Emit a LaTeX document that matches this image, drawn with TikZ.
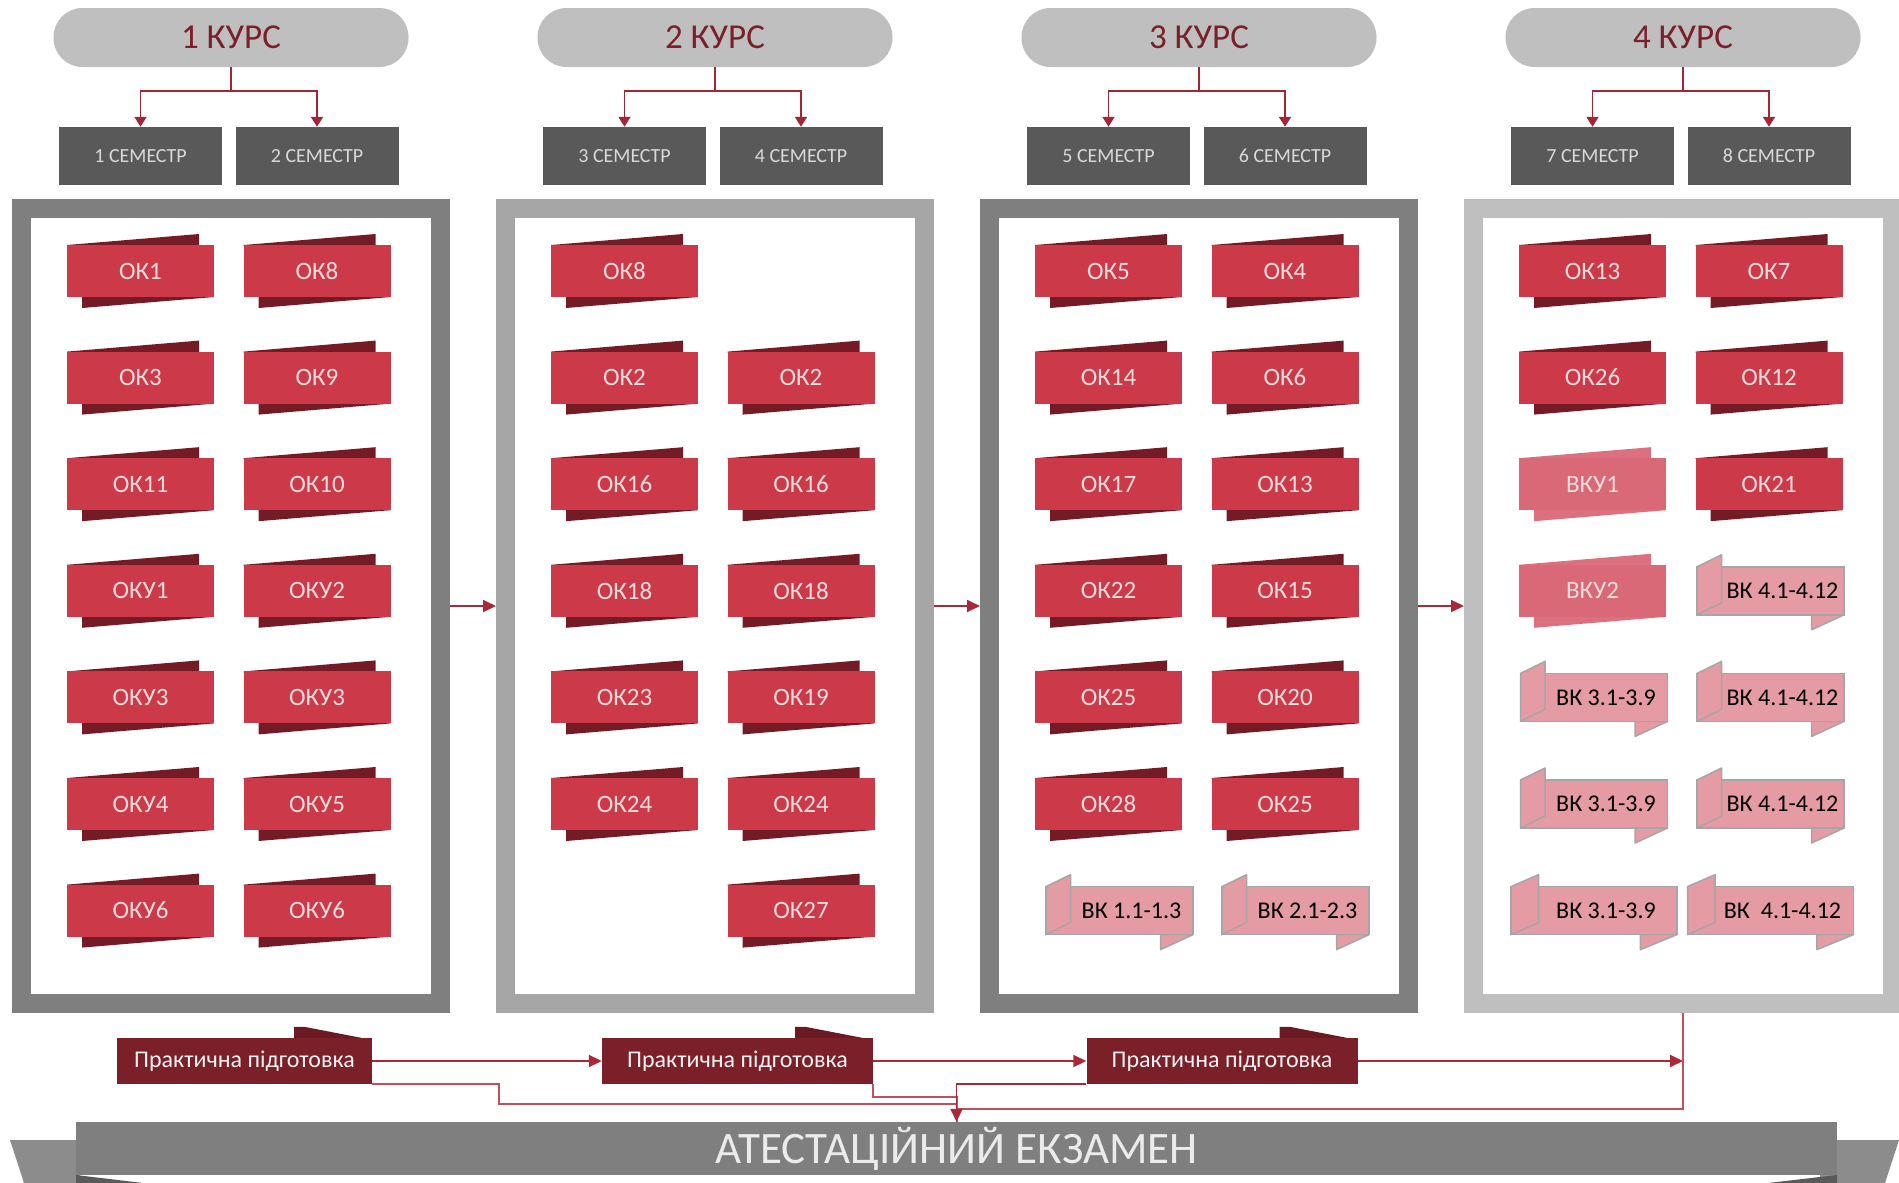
\documentclass[tikz,border=0pt]{standalone}
\usepackage{fontspec}
\setmainfont{Carlito}
\usepackage{tikz}
\usetikzlibrary{arrows.meta,calc}

\tikzset{
  kurs/.style={rectangle, rounded corners=29pt, fill={rgb,255:red,191;green,191;blue,191}, minimum width=355pt, minimum height=59pt, text={rgb,255:red,123;green,31;blue,43}, font=\fontsize{35}{40}\selectfont},
  sem/.style={rectangle, fill={rgb,255:red,89;green,89;blue,89}, minimum width=163pt, minimum height=58pt, text={rgb,255:red,217;green,217;blue,217}, font=\fontsize{20}{24}\selectfont},
  frame/.style={rectangle, fill=white, line width=19pt, outer sep=9.5pt, inner sep=0pt, minimum width=419pt, minimum height=795pt},
  frdark/.style={draw={rgb,255:red,127;green,127;blue,127}},
  frmid/.style={draw={rgb,255:red,166;green,166;blue,166}},
  frlight/.style={draw={rgb,255:red,191;green,191;blue,191}},
  okfront/.style={rectangle, fill={rgb,255:red,204;green,58;blue,74}, minimum width=147pt, minimum height=52pt, text={rgb,255:red,242;green,220;blue,219}, font=\fontsize{25}{29}\selectfont},
  okback/.style={fill={rgb,255:red,117;green,27;blue,37}},
  palefront/.style={okfront, fill={rgb,255:red,217;green,105;blue,118}},
  paleback/.style={fill={rgb,255:red,221;green,112;blue,126}},
  vkfront/.style={rectangle, fill={rgb,255:red,229;green,155;blue,163}, draw={rgb,255:red,166;green,166;blue,166}, line width=1.5pt, inner xsep=1pt, minimum height=48pt, text=black, font=\fontsize{24}{28}\selectfont},
  vkback/.style={fill={rgb,255:red,229;green,155;blue,163}, draw={rgb,255:red,166;green,166;blue,166}, line width=1.5pt, line join=round},
  karr/.style={draw={rgb,255:red,163;green,38;blue,54}, line width=1.8pt, -{Triangle[length=10pt,width=12pt]}},
  parr/.style={draw={rgb,255:red,170;green,40;blue,56}, line width=1.8pt, -{Triangle[length=13pt,width=12pt]}},
  pline/.style={draw={rgb,255:red,192;green,80;blue,93}, line width=2pt},
  prak/.style={rectangle, fill={rgb,255:red,123;green,31;blue,40}, minimum width=271pt, minimum height=46pt, text={rgb,255:red,242;green,242;blue,242}, font=\fontsize{24}{28}\selectfont},
  pflag/.style={fill={rgb,255:red,107;green,26;blue,36}},
  exam/.style={rectangle, fill={rgb,255:red,127;green,127;blue,127}, minimum width=1761pt, minimum height=53pt, text={rgb,255:red,235;green,235;blue,235}, font=\fontsize{45}{50}\selectfont},
  examwing/.style={fill={rgb,255:red,140;green,140;blue,140}},
  examfold/.style={fill={rgb,255:red,90;green,90;blue,90}}
}

% red band: [style]{name}{x}{y}{text}
\newcommand{\okband}[5][ok]{%
  \fill[#1back] (#3-73.5,#4-26) -- (#3+58.5,#4-37) -- (#3+58.5,#4-20)
    -- (#3+73.5,#4+26) -- (#3-58.5,#4+37) -- (#3-58.5,#4+20) -- cycle;
  \node[#1front] (#2) at (#3,#4) {#5};
}
% pink scroll: [width]{name}{x}{y}{text}
\newcommand{\vkband}[5][147]{%
  \filldraw[vkback] (#3+#1/2-#1*0.22,#4+24) -- (#3+#1/2-#1*0.22,#4+39) -- (#3+#1/2,#4+24) -- cycle;
  \node[vkfront, minimum width=#1pt] (#2) at (#3,#4) {\hspace*{24pt}#5};
  \filldraw[vkback] (#3-#1/2,#4-24) -- (#3-#1/2+#1/6,#4-36) -- (#3-#1/2+#1/6,#4+12) -- (#3-#1/2,#4+24) -- cycle;
}

\begin{document}
\begin{tikzpicture}[x=1pt,y=1pt,yscale=-1,xscale=1]
\useasboundingbox (0,0) rectangle (1899,1183);

% Year heads, semesters and frames
\foreach \yr/\fc in {1/frdark,2/frmid,3/frdark,4/frlight} {
  \pgfmathsetmacro\cx{231+484*(\yr-1)}
  \pgfmathtruncatemacro\sema{2*\yr-1}
  \pgfmathtruncatemacro\semb{2*\yr}
  % Text Node
  \node[kurs] (kurs\yr) at (\cx,37.5) {\yr{} КУРС};
  \node[sem] (sem\sema) at (\cx-90.5,156) {\sema{} СЕМЕСТР};
  \node[sem] (sem\semb) at (\cx+86,156) {\semb{} СЕМЕСТР};
  \node[frame,\fc] (frame\yr) at (\cx,606) {};
  % Connection
  \draw[karr] (kurs\yr.south) -- ++(0,24) -| (sem\sema.north);
  \draw[karr] (kurs\yr.south) -- ++(0,24) -| (sem\semb.north);
}
% Connection
\foreach \a/\b in {1/2,2/3,3/4}
  \draw[parr] (frame\a.east) -- (frame\b.west);

% 1 КУРС
\foreach \t [count=\r from 0] in {ОК1,ОК3,ОК11,ОКУ1,ОКУ3,ОКУ4,ОКУ6}
  {\okband{ok1l\r}{140.5}{271+106.6*\r}{\t}}
\foreach \t [count=\r from 0] in {ОК8,ОК9,ОК10,ОКУ2,ОКУ3,ОКУ5,ОКУ6}
  {\okband{ok1r\r}{317}{271+106.6*\r}{\t}}

% 2 КУРС
\foreach \t [count=\r from 0] in {ОК8,ОК2,ОК16,ОК18,ОК23,ОК24}
  {\okband{ok2l\r}{624.5}{271+106.6*\r}{\t}}
\foreach \t [count=\r from 1] in {ОК2,ОК16,ОК18,ОК19,ОК24,ОК27}
  {\okband{ok2r\r}{801}{271+106.6*\r}{\t}}

% 3 КУРС
\foreach \t [count=\r from 0] in {ОК5,ОК14,ОК17,ОК22,ОК25,ОК28}
  {\okband{ok3l\r}{1108.5}{271+106.6*\r}{\t}}
\foreach \t [count=\r from 0] in {ОК4,ОК6,ОК13,ОК15,ОК20,ОК25}
  {\okband{ok3r\r}{1285}{271+106.6*\r}{\t}}
\vkband{vk3l6}{1119.5}{910.6}{ВК 1.1-1.3}
\vkband{vk3r6}{1295.5}{910.6}{ВК 2.1-2.3}

% 4 КУРС
\okband{ok4l0}{1592.5}{271}{ОК13}
\okband{ok4l1}{1592.5}{377.6}{ОК26}
\okband[pale]{vku1}{1592.5}{484.2}{ВКУ1}
\okband[pale]{vku2}{1592.5}{590.8}{ВКУ2}
\vkband{vk4l4}{1594}{697.4}{ВК 3.1-3.9}
\vkband{vk4l5}{1594}{804}{ВК 3.1-3.9}
\vkband[166]{vk4l6}{1594}{910.6}{ВК 3.1-3.9}
\foreach \t [count=\r from 0] in {ОК7,ОК12,ОК21}
  {\okband{ok4r\r}{1769}{271+106.6*\r}{\t}}
\vkband{vk4r3}{1770.5}{590.8}{ВК 4.1-4.12}
\vkband{vk4r4}{1770.5}{697.4}{ВК 4.1-4.12}
\vkband{vk4r5}{1770.5}{804}{ВК 4.1-4.12}
\vkband[166]{vk4r6}{1770.5}{910.6}{ВК\ \ 4.1-4.12}

% Practical training
\node[prak, minimum width=255pt] (prak1) at (244.5,1061) {Практична підготовка};
\node[prak] (prak2) at (737.5,1061) {Практична підготовка};
\node[prak] (prak3) at (1222,1061) {Практична підготовка};
\foreach \p in {1,2,3}
  \fill[pflag] ($(prak\p.north east)+(-78,0)$) -- ++(0,-11) -- ++(10,0) -- ($(prak\p.north east)+(-11,0)$) -- cycle;

% Exam banner
\fill[examwing] (10,1140) -- (80,1140) -- (80,1183) -- (24,1183) -- cycle;
\fill[examwing] (1899,1140) -- (1820,1140) -- (1820,1183) -- (1885,1183) -- cycle;
\fill[examfold] (76,1175) -- (143,1183) -- (76,1183) -- cycle;
\fill[examfold] (1837,1175) -- (1768,1183) -- (1837,1183) -- cycle;
\node[exam] (exam) at (956.5,1148.5) {АТЕСТАЦІЙНИЙ ЕКЗАМЕН};

% Connection
\draw[parr] (prak1) -- (prak2);
\draw[parr] (prak2) -- (prak3);
\draw[parr] (prak3.east) -- (frame4.south |- prak3.east);
\draw[pline] (prak1.south east) -- ++(127,0) -- ++(0,20) -| (exam.north);
\draw[pline] (prak2.south east) -- ++(0,13) -| (exam.north);
\draw[pline] (frame4.south) -- ++(0,96) -| (exam.north);
\draw[parr] (prak3.south west) -| (exam.north);
\end{tikzpicture}
\end{document}
